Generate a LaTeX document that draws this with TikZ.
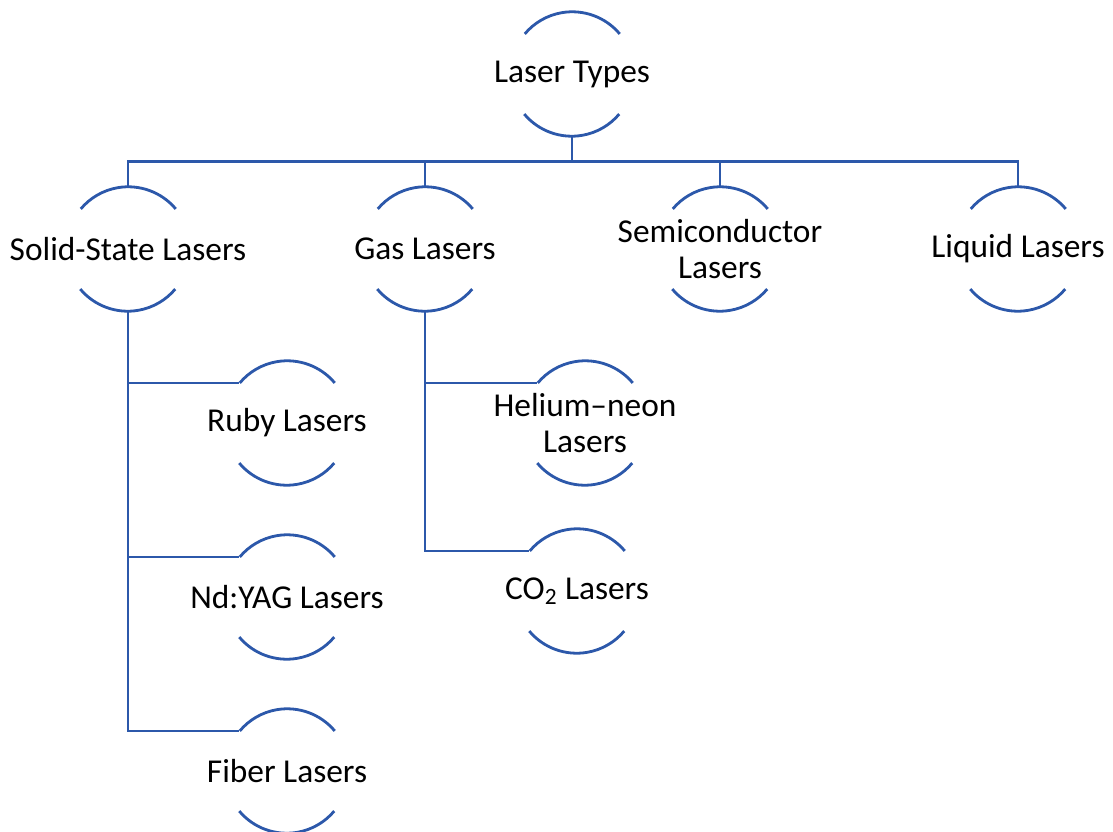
\documentclass[tikz,border=0pt]{standalone}
\usepackage{fontspec}
\setmainfont{Carlito}
\definecolor{linkblue}{RGB}{44,88,170}

\begin{document}
\begin{tikzpicture}[x=0.02cm, y=-0.02cm,
    laser/.style={circle,inner sep=0pt,minimum size=2.48cm},
    link/.style={draw=linkblue,line width=1.6pt},
    every label/.style={align=center,font=\fontsize{19}{20.5}\selectfont}
    ]
    \useasboundingbox (0,0) rectangle (1113,832);

    \node(root) [laser,label={center:Laser Types}] at (572,74) {};

    \node(solid) [laser,label={center:Solid-State Lasers}] at (128,249) {};
    \node(gas) [laser,label={center:Gas Lasers}] at (425,249) {};
    \node(semi) [laser,label={center:Semiconductor\\Lasers}] at (720,249) {};
    \node(liquid) [laser,label={center:Liquid Lasers}] at (1018,249) {};

    \node(ruby) [laser,label={center:Ruby Lasers}] at (287,423) {};
    \node(ndyag) [laser,label={center:Nd:YAG Lasers}] at (287,597) {};
    \node(fiber) [laser,label={center:Fiber Lasers}] at (287,771) {};

    \node(hene) [laser,label={center:Helium–neon\\Lasers}] at (585,423) {};
    \node(co2) [laser,label={center:CO\textsubscript{2} Lasers}] at (577,591) {};

    \foreach \n in {root,solid,gas,semi,liquid,ruby,ndyag,fiber,hene,co2} {
      \draw[link] (\n.40) arc[start angle=40,end angle=140,radius=1.24cm];
      \draw[link] (\n.220) arc[start angle=220,end angle=320,radius=1.24cm];
    }

    \foreach \c in {solid,gas,semi,liquid}
      \draw[link] (root.south) -- ++(0,25) -| (\c.north);

    \foreach \c in {ruby,ndyag,fiber}
      \draw[link] (solid.south) |- (\c.140);

    \foreach \c in {hene,co2}
      \draw[link] (gas.south) |- (\c.140);

  \end{tikzpicture}
\end{document}
